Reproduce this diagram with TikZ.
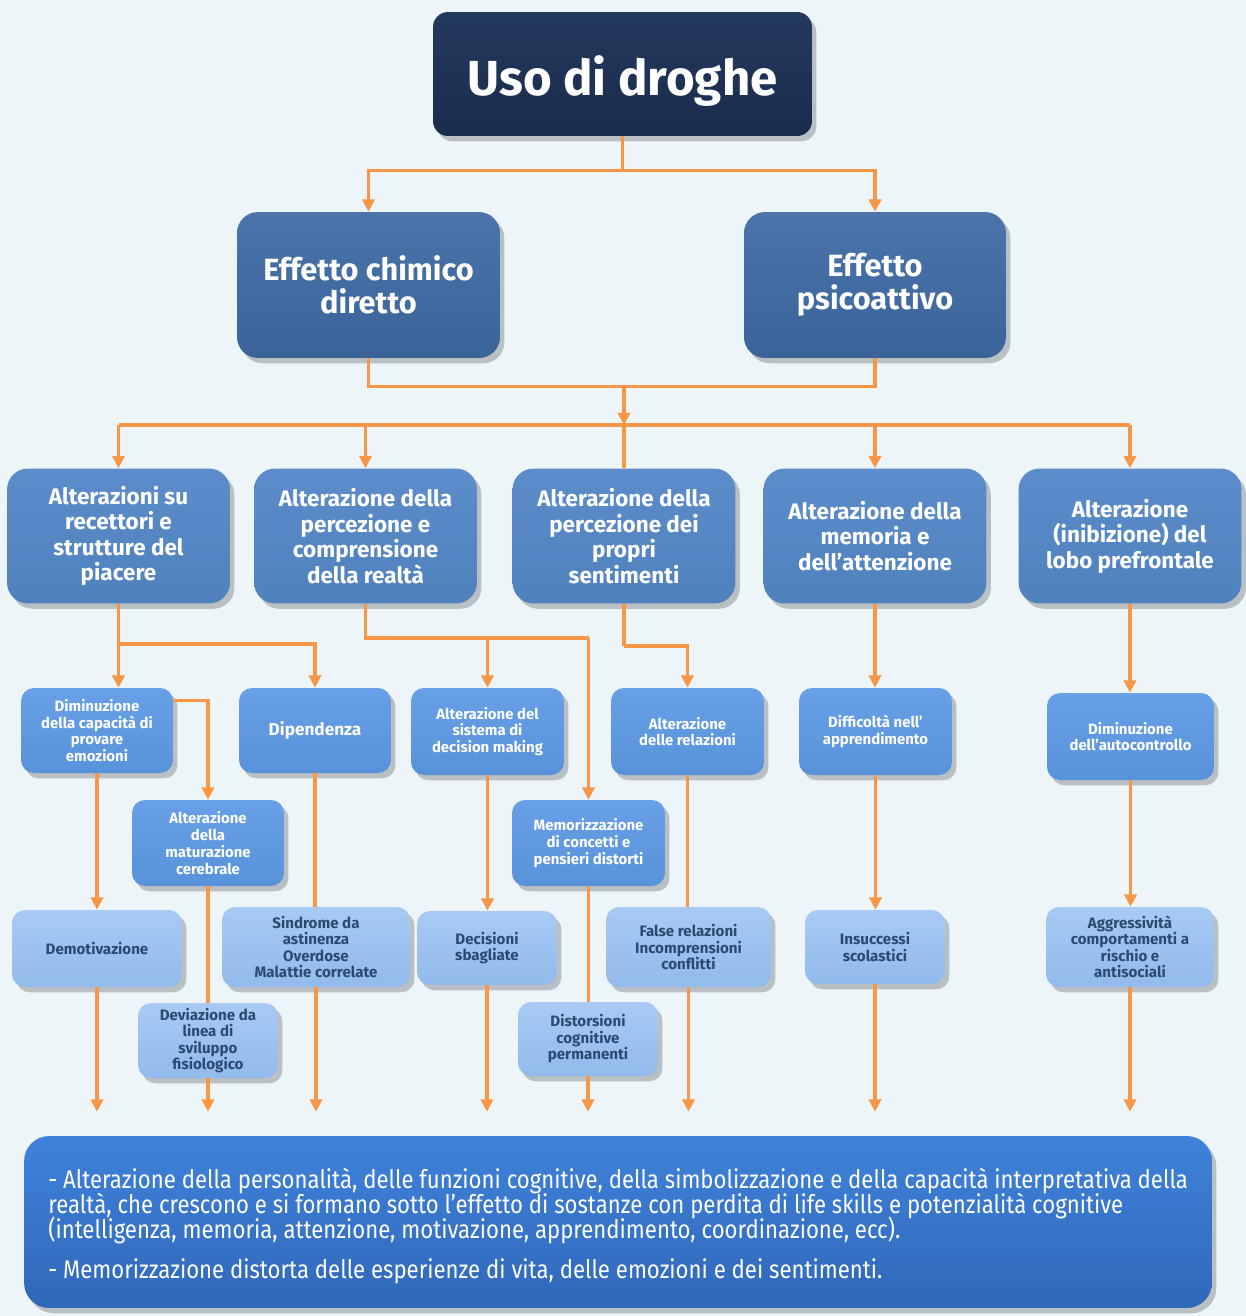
\documentclass[tikz,border=0pt]{standalone}
\usepackage{fontspec}
\setmainfont{Fira Sans}
\newfontfamily\condfont[FakeStretch=0.87]{Fira Sans}
\newcommand\bottomtextfont{\condfont\fontsize{14.5}{14.2}\selectfont\lineskiplimit=-20pt\relax}
\usetikzlibrary{shadows,calc,arrows.meta}
\definecolor{orangeln}{HTML}{F79646}
\definecolor{bgc}{HTML}{EEF5F9}
\definecolor{navy}{HTML}{1A2C4C}
\definecolor{navytop}{HTML}{24395E}
\definecolor{steel}{HTML}{3A6399}
\definecolor{steeltop}{HTML}{4A74AA}
\definecolor{midblue}{HTML}{4F81BD}
\definecolor{midbluetop}{HTML}{5C8DCA}
\definecolor{brblue}{HTML}{5892DA}
\definecolor{brbluetop}{HTML}{67A0E6}
\definecolor{ltblue}{HTML}{92BAEC}
\definecolor{ltbluetop}{HTML}{A8CAF4}
\definecolor{darktext}{HTML}{2B4A72}
\definecolor{botblue}{HTML}{3068BA}
\definecolor{botbluetop}{HTML}{3F82DA}
\tikzset{
  boxbase/.style={rounded corners=0.32cm, align=center, inner sep=2pt, font=\bfseries,
    drop shadow={shadow xshift=2.5pt, shadow yshift=-3pt, opacity=0.22, fill=black}},
  lvlzero/.style={boxbase, rounded corners=0.3cm, top color=navytop, bottom color=navy, text=white,
    font=\bfseries\fontsize{28}{32}\selectfont},
  lvlone/.style={boxbase, rounded corners=0.42cm, top color=steeltop, bottom color=steel, text=white,
    font=\bfseries\fontsize{17.5}{19}\selectfont},
  lvltwo/.style={boxbase, rounded corners=0.42cm, top color=midbluetop, bottom color=midblue, text=white,
    font=\bfseries\fontsize{12.8}{14.5}\selectfont},
  lvlthree/.style={boxbase, rounded corners=0.26cm, top color=brbluetop, bottom color=brblue, text=white,
    font=\bfseries\fontsize{8.5}{9.6}\selectfont},
  lvlfour/.style={boxbase, rounded corners=0.26cm, top color=ltbluetop, bottom color=ltblue, text=darktext,
    font=\bfseries\fontsize{8.6}{9.4}\selectfont},
  botbox/.style={boxbase, rounded corners=0.5cm, top color=botbluetop, bottom color=botblue},
  ln/.style={draw=orangeln, line width=2pt},
  arr/.style={draw=orangeln, line width=2pt, -{Triangle[width=7pt,length=7pt]}},
}
\begin{document}
\begin{tikzpicture}[x=0.02cm,y=-0.02cm]
\useasboundingbox (0,0) rectangle (1246,1316);
\fill[bgc] (0,0) rectangle (1246,1316);

% level 0
\node[lvlzero, minimum width=7.58cm, minimum height=2.48cm, text height=30pt, text depth=6pt] (T) at (622.5,74) {Uso di droghe};
% level 1
\node[lvlone, minimum width=5.26cm, minimum height=2.92cm] (C1) at (368.5,285) {Effetto chimico\\diretto};
\node[lvlone, minimum width=5.24cm, minimum height=2.92cm] (C2) at (875,285) {Effetto\\psicoattivo};
% level 2
\node[lvltwo, minimum width=4.46cm, minimum height=2.7cm] (A1) at (118.5,536) {Alterazioni su\\recettori e\\strutture del\\piacere};
\node[lvltwo, minimum width=4.46cm, minimum height=2.7cm] (A2) at (365.5,536) {Alterazione della\\percezione e\\comprensione\\della realtà};
\node[lvltwo, minimum width=4.46cm, minimum height=2.7cm] (A3) at (624,536) {Alterazione della\\percezione dei\\propri\\sentimenti};
\node[lvltwo, minimum width=4.46cm, minimum height=2.7cm] (A4) at (875,536) {Alterazione della\\memoria e\\dell’attenzione};
\node[lvltwo, minimum width=4.46cm, minimum height=2.7cm] (A5) at (1130,536) {Alterazione\\(inibizione) del\\lobo prefrontale};
% level 3
\node[lvlthree, minimum width=3.04cm, minimum height=1.7cm] (D1) at (97,730.5) {Diminuzione\\della capacità di\\provare\\emozioni};
\node[lvlthree, minimum width=3.04cm, minimum height=1.7cm, font=\bfseries\fontsize{9.8}{11}\selectfont] (D2) at (315,730.5) {Dipendenza};
\node[lvlthree, minimum width=3.06cm, minimum height=1.74cm] (D3) at (487.5,731.5) {Alterazione del\\sistema di\\decision making};
\node[lvlthree, minimum width=3.06cm, minimum height=1.74cm] (D4) at (687.5,731.5) {Alterazione\\delle relazioni};
\node[lvlthree, minimum width=3.06cm, minimum height=1.74cm] (D5) at (875.5,731.5) {Difficoltà nell’\\apprendimento};
\node[lvlthree, minimum width=3.34cm, minimum height=1.74cm] (D6) at (1130.5,736.5) {Diminuzione\\dell’autocontrollo};
\node[lvlthree, minimum width=3.04cm, minimum height=1.72cm] (M1) at (208,843) {Alterazione\\della\\maturazione\\cerebrale};
\node[lvlthree, minimum width=3.06cm, minimum height=1.72cm] (M2) at (588.5,843) {Memorizzazione\\di concetti e\\pensieri distorti};
% level 4
\node[lvlfour, minimum width=3.4cm, minimum height=1.54cm] (E1) at (97,948.5) {Demotivazione};
\node[lvlfour, minimum width=3.76cm, minimum height=1.6cm] (E2) at (316,947) {Sindrome da\\astinenza\\Overdose\\Malattie correlate};
\node[lvlfour, minimum width=2.8cm, minimum height=1.48cm] (E3) at (487,948) {Decisioni\\sbagliate};
\node[lvlfour, minimum width=3.3cm, minimum height=1.6cm] (E4) at (688.5,947) {False relazioni\\Incomprensioni\\conflitti};
\node[lvlfour, minimum width=2.8cm, minimum height=1.48cm] (E5) at (875,947) {Insuccessi\\scolastici};
\node[lvlfour, minimum width=3.36cm, minimum height=1.6cm] (E6) at (1130,947) {Aggressività\\comportamenti a\\rischio e\\antisociali};
\node[lvlfour, minimum width=2.8cm, minimum height=1.5cm] (E7) at (208,1040.5) {Deviazione da\\linea di\\sviluppo\\fisiologico};
\node[lvlfour, minimum width=2.8cm, minimum height=1.48cm] (E8) at (588,1039) {Distorsioni\\cognitive\\permanenti};
% bottom box
\node[botbox, minimum width=23.76cm, minimum height=3.44cm] (B) at (618,1222) {};
\node[anchor=west, align=left, inner sep=0pt, text=white, font=\bottomtextfont] (BT) at (48,1226)
 {- Alterazione della personalità, delle funzioni cognitive, della simbolizzazione e della capacità interpretativa della\\
  realtà, che crescono e si formano sotto l’effetto di sostanze con perdita di life skills e potenzialità cognitive\\
  (intelligenza, memoria, attenzione, motivazione, apprendimento, coordinazione, ecc).\\[8.5pt]
  - Memorizzazione distorta delle esperienze di vita, delle emozioni e dei sentimenti.};

% connectors top
\coordinate (t1) at ($(T.south)+(0,34)$);
\draw[ln] (T.south) -- (t1);
\draw[arr] (t1) -| (C1.north);
\draw[arr] (t1) -| (C2.north);
\coordinate (m1) at ($(C1.south)+(0,28)$);
\draw[ln] (C1.south) -- (m1) -- (m1 -| C2.south) -- (C2.south);
\coordinate (h) at ($(A3.north)+(0,-43)$);
\draw[arr] (m1 -| A3.north) -- (h);
\draw[ln] (h -| A1.north) -- (h -| A5.north);
\draw[ln] (h) -- (A3.north);
\draw[arr] (h -| A1.north) -- (A1.north);
\draw[arr] (h -| A2.north) -- (A2.north);
\draw[arr] (h -| A4.north) -- (A4.north);
\draw[arr] (h -| A5.north) -- (A5.north);

% from level 2
\coordinate (j1) at ($(A1.south)+(0,40)$);
\draw[ln] (A1.south) -- (j1);
\draw[arr] (j1) -- (j1 |- D1.north);
\draw[arr] (j1) -| (D2.north);
\draw[arr] ($(D1.north east)+(0,13)$) -| (M1.north);

\coordinate (j2) at ($(A2.south)+(0,34)$);
\draw[ln] (A2.south) -- (j2) -- (j2 -| M2.north);
\draw[arr] (j2 -| D3.north) -- (D3.north);
\draw[arr] (j2 -| M2.north) -- (M2.north);

\coordinate (j3) at ($(A3.south)+(0,42)$);
\draw[ln] (A3.south) -- (j3);
\draw[arr] (j3) -| (D4.north);
\draw[arr] (A4.south) -- (A4.south |- D5.north);
\draw[arr] (A5.south) -- (A5.south |- D6.north);

% level 3 to level 4
\draw[arr] (D1.south) -- (E1.north);
\draw[ln] (D2.south) -- (D2.south |- E2.north);
\draw[ln] (M1.south) -- (E7.north);
\draw[arr] (D3.south) -- (D3.south |- E3.north);
\draw[ln] (M2.south) -- (M2.south |- E8.north);
\draw[ln] (D4.south) -- (D4.south |- E4.north);
\draw[arr] (D5.south) -- (D5.south |- E5.north);
\draw[arr] (D6.south) -- (D6.south |- E6.north);

% to bottom box
\coordinate (tip) at ($(B.north)+(0,-24)$);
\foreach \n in {E1,E2,E3,E4,E5,E6,E7,E8}
  \draw[arr] (\n.south) -- (\n.south |- tip);
\end{tikzpicture}
\end{document}
